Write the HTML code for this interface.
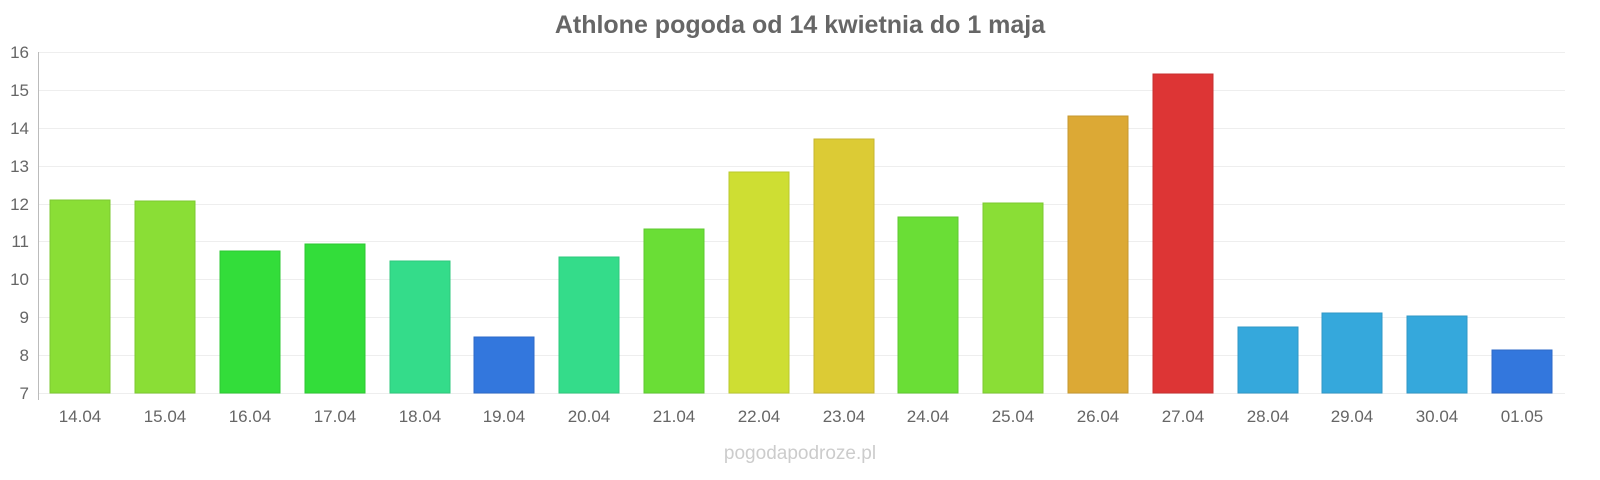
<!DOCTYPE html><html><head><meta charset="utf-8"><style>body{margin:0;background:#fff}svg{display:block}text{font-family:"Liberation Sans",sans-serif}</style></head><body>
<svg width="1600" height="480" xmlns="http://www.w3.org/2000/svg">
<text x="800" y="33" text-anchor="middle" font-size="25" font-weight="bold" fill="#666">Athlone pogoda od 14 kwietnia do 1 maja</text>
<g stroke="#eee" stroke-width="1">
<line x1="38" x2="1565" y1="52.5" y2="52.5"/><line x1="38" x2="1565" y1="90.5" y2="90.5"/><line x1="38" x2="1565" y1="128.5" y2="128.5"/><line x1="38" x2="1565" y1="166.5" y2="166.5"/><line x1="38" x2="1565" y1="204.5" y2="204.5"/><line x1="38" x2="1565" y1="241.5" y2="241.5"/><line x1="38" x2="1565" y1="279.5" y2="279.5"/><line x1="38" x2="1565" y1="317.5" y2="317.5"/><line x1="38" x2="1565" y1="355.5" y2="355.5"/><line x1="38" x2="1565" y1="393.5" y2="393.5"/>
</g>
<line x1="38.5" x2="38.5" y1="52" y2="400" stroke="#bbb"/>
<g font-size="17" fill="#666" text-anchor="end">
<text x="29" y="58">16</text><text x="29" y="96">15</text><text x="29" y="134">14</text><text x="29" y="172">13</text><text x="29" y="210">12</text><text x="29" y="247">11</text><text x="29" y="285">10</text><text x="29" y="323">9</text><text x="29" y="361">8</text><text x="29" y="399">7</text>
</g>
<g stroke-width="1">
<rect x="50" y="200" width="60" height="193" fill="#8ade36" stroke="#7cc830"/>
<rect x="135" y="201" width="60" height="192" fill="#8ade36" stroke="#7cc830"/>
<rect x="220" y="251" width="60" height="142" fill="#33dd3a" stroke="#2cc833"/>
<rect x="305" y="244" width="60" height="149" fill="#33dd3a" stroke="#2cc833"/>
<rect x="390" y="261" width="60" height="132" fill="#34dc8a" stroke="#2ec87c"/>
<rect x="474" y="337" width="60" height="56" fill="#3377dd" stroke="#2d6ac8"/>
<rect x="559" y="257" width="60" height="136" fill="#34dc8a" stroke="#2ec87c"/>
<rect x="644" y="229" width="60" height="164" fill="#6ade36" stroke="#5fc830"/>
<rect x="729" y="172" width="60" height="221" fill="#cede33" stroke="#b9c82d"/>
<rect x="814" y="139" width="60" height="254" fill="#dccb35" stroke="#c6b630"/>
<rect x="898" y="217" width="60" height="176" fill="#6ade36" stroke="#5fc830"/>
<rect x="983" y="203" width="60" height="190" fill="#8ade36" stroke="#7cc830"/>
<rect x="1068" y="116" width="60" height="277" fill="#dca935" stroke="#c69830"/>
<rect x="1153" y="74" width="60" height="319" fill="#dd3535" stroke="#c83030"/>
<rect x="1238" y="327" width="60" height="66" fill="#35a8dc" stroke="#3097c6"/>
<rect x="1322" y="313" width="60" height="80" fill="#35a8dc" stroke="#3097c6"/>
<rect x="1407" y="316" width="60" height="77" fill="#35a8dc" stroke="#3097c6"/>
<rect x="1492" y="350" width="60" height="43" fill="#3377dd" stroke="#2d6ac8"/>
</g>
<g font-size="17" fill="#666" text-anchor="middle">
<text x="80" y="422">14.04</text><text x="165" y="422">15.04</text><text x="250" y="422">16.04</text><text x="335" y="422">17.04</text><text x="420" y="422">18.04</text><text x="504" y="422">19.04</text><text x="589" y="422">20.04</text><text x="674" y="422">21.04</text><text x="759" y="422">22.04</text><text x="844" y="422">23.04</text><text x="928" y="422">24.04</text><text x="1013" y="422">25.04</text><text x="1098" y="422">26.04</text><text x="1183" y="422">27.04</text><text x="1268" y="422">28.04</text><text x="1352" y="422">29.04</text><text x="1437" y="422">30.04</text><text x="1522" y="422">01.05</text>
</g>
<text x="800" y="459" text-anchor="middle" font-size="19" fill="#ccc">pogodapodroze.pl</text>
</svg></body></html>
